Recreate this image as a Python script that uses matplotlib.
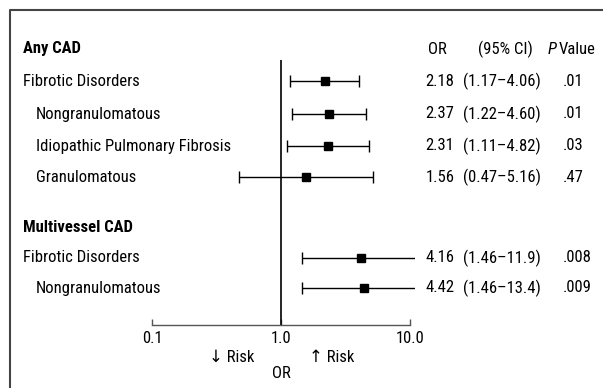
import matplotlib
matplotlib.use("Agg")
import matplotlib.pyplot as plt
from matplotlib import font_manager

# ---- data ----
groups = ["Any CAD", "Multivessel CAD"]
labels = [
    ["Fibrotic Disorders", "Nongranulomatous", "Idiopathic Pulmonary Fibrosis", "Granulomatous"],
    ["Fibrotic Disorders", "Nongranulomatous"],
]
indent = [[False, True, True, True], [False, True]]
or_vals = [[2.18, 2.37, 2.31, 1.56], [4.16, 4.42]]
ci_low = [[1.17, 1.22, 1.11, 0.47], [1.46, 1.46]]
ci_high = [[4.06, 4.60, 4.82, 5.16], [11.9, 13.4]]
ci_text = [["(1.17–4.06)", "(1.22–4.60)", "(1.11–4.82)", "(0.47–5.16)"],
           ["(1.46–11.9)", "(1.46–13.4)"]]
p_text = [[".01", ".01", ".03", ".47"], [".008", ".009"]]
xticks = [0.1, 1.0, 10.0]
xtick_labels = ["0.1", "1.0", "10.0"]

# ---- layout (pixel units) ----
W, H = 603, 388
header_y = [49, 228]
row_y = [[81, 114, 146, 177], [258, 288]]

avail = {f.name for f in font_manager.fontManager.ttflist}
fam = "Roboto Condensed" if "Roboto Condensed" in avail else "Liberation Sans"
plt.rcParams["font.family"] = [fam, "DejaVu Sans"]
fs = 12

fig = plt.figure(figsize=(W / 100, H / 100), dpi=100)

# overlay axes in pixel coordinates
ov = fig.add_axes([0, 0, 1, 1])
ov.set_xlim(0, W)
ov.set_ylim(H, 0)
ov.axis("off")

# frame (clipped by image on right and bottom)
ov.plot([9.5, 9.5, W + 5], [H + 5, 10, 10], color="#444444", lw=1.5, clip_on=False)

# data axes: x from 0.1 (px 152) to right clip (px 415); y from 60 to 325
ax_left, ax_right, ax_top, ax_bot = 152, 415, 60, 325
ax = fig.add_axes([ax_left / W, (H - ax_bot) / H, (ax_right - ax_left) / W, (ax_bot - ax_top) / H])
ax.set_xscale("log")
ax.set_xlim(0.1, 10 ** ((ax_right - 281) / 129))
ax.set_ylim(ax_bot, ax_top)
ax.patch.set_alpha(0)
for s in ["top", "right", "left"]:
    ax.spines[s].set_visible(False)
ax.spines["bottom"].set_bounds(0.1, 10)
ax.spines["bottom"].set_color("#555555")
ax.spines["bottom"].set_linewidth(1.0)
ax.set_yticks([])
ax.set_xticks(xticks)
ax.set_xticklabels(xtick_labels, fontsize=fs)
ax.xaxis.set_minor_locator(matplotlib.ticker.NullLocator())
ax.tick_params(axis="x", direction="in", length=4, width=1.0, color="#555555", pad=4)
ax.axvline(1.0, color="black", lw=1.2)

for g in range(len(groups)):
    for i in range(len(labels[g])):
        y = row_y[g][i]
        o = or_vals[g][i]
        ax.errorbar([o], [y], xerr=[[o - ci_low[g][i]], [ci_high[g][i] - o]],
                    fmt="s", color="black", ms=6, lw=1.0, capsize=4, capthick=1.0)

# texts
for g in range(len(groups)):
    ov.text(23, header_y[g], groups[g], fontsize=fs, fontweight="bold", va="center", ha="left")
    for i in range(len(labels[g])):
        y = row_y[g][i]
        ov.text(36 if indent[g][i] else 23, y, labels[g][i], fontsize=fs, va="center", ha="left")
        ov.text(440, y, f"{or_vals[g][i]:.2f}", fontsize=fs, va="center", ha="center")
        ov.text(502, y, ci_text[g][i], fontsize=fs, va="center", ha="center")
        ov.text(563, y, p_text[g][i], fontsize=fs, va="center", ha="left")

ov.text(437, header_y[0], "OR", fontsize=fs, va="center", ha="center")
ov.text(505, header_y[0], "(95% CI)", fontsize=fs, va="center", ha="center")
ov.text(557, header_y[0], "P", fontsize=fs, style="italic", va="center", ha="right")
ov.text(559, header_y[0], "Value", fontsize=fs, va="center", ha="left")

ov.text(232, 357, "↓ Risk", fontsize=fs, va="center", ha="center")
ov.text(332, 357, "↑ Risk", fontsize=fs, va="center", ha="center")
ov.text(281, 373, "OR", fontsize=fs, va="center", ha="center")

fig.savefig("out.png", dpi=100)
